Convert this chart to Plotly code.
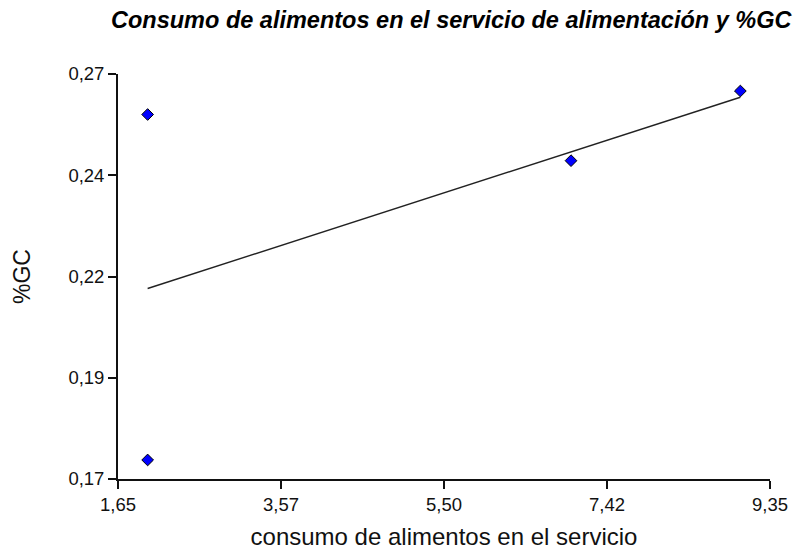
import numpy as np
import plotly.graph_objects as go

# Data
consumo = [2.0, 2.0, 7.0, 9.0]
gc = [0.1747, 0.2600, 0.2486, 0.2658]

x_ticks = [1.65, 3.575, 5.50, 7.425, 9.35]
x_ticklabels = ["1,65", "3,57", "5,50", "7,42", "9,35"]
y_ticks = [0.17, 0.195, 0.22, 0.245, 0.27]
y_ticklabels = ["0,17", "0,19", "0,22", "0,24", "0,27"]

title = "Consumo de alimentos en el servicio de alimentación y %GC"
x_title = "consumo de alimentos en el servicio"
y_title = "%GC"

# Linear regression line
slope, intercept = np.polyfit(consumo, gc, 1)
x_line = [min(consumo), max(consumo)]
y_line = [slope * v + intercept for v in x_line]

fig = go.Figure()
fig.add_trace(go.Scatter(x=x_line, y=y_line, mode="lines",
                         line=dict(color="#222222", width=1.4),
                         hoverinfo="skip", showlegend=False))
fig.add_trace(go.Scatter(x=consumo, y=gc, mode="markers",
                         marker=dict(symbol="diamond", size=9, color="#0000ff",
                                     line=dict(color="black", width=1)),
                         showlegend=False))

font_family = "Liberation Sans, Arial, sans-serif"
fig.update_layout(
    width=800, height=558,
    margin=dict(l=118, r=25, t=74, b=75),
    paper_bgcolor="white", plot_bgcolor="white",
    font=dict(family=font_family, size=18.5, color="#111111"),
    title=dict(text="<b><i>" + title + "</i></b>", x=0.564, xanchor="center",
               y=0.964, yanchor="middle",
               font=dict(family=font_family, size=23.5, color="black")),
    xaxis=dict(range=[1.65, 9.35], tickvals=x_ticks, ticktext=x_ticklabels,
               showgrid=False, zeroline=False, showline=True, linecolor="#111111",
               linewidth=1.8, ticks="outside", ticklen=8, tickcolor="#111111",
               tickwidth=1.8, tickfont=dict(size=18.5),
               title=dict(text=x_title, font=dict(size=24), standoff=14)),
    yaxis=dict(range=[0.17, 0.27], tickvals=y_ticks, ticktext=y_ticklabels,
               showgrid=False, zeroline=False, showline=True, linecolor="#111111",
               linewidth=1.8, ticks="outside", ticklen=8, tickcolor="#111111",
               tickwidth=1.8, tickfont=dict(size=18.5),
               title=dict(text=y_title, font=dict(size=23), standoff=31)),
)

fig.write_html("out.html")
